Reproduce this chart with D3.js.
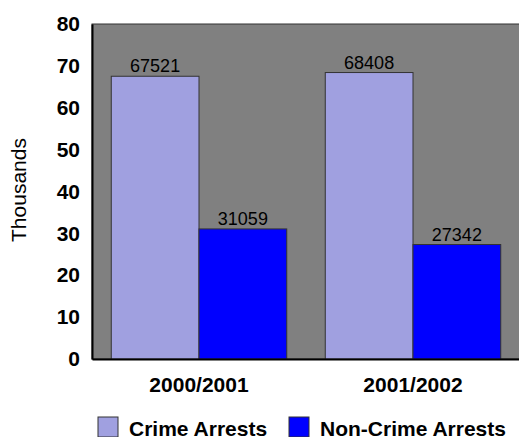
<!DOCTYPE html>
<html>
<head>
<meta charset="utf-8">
<script src="https://cdn.jsdelivr.net/npm/d3@7"></script>
<style>
  body { margin: 0; background: #fff; }
  svg { display: block; font-family: "Liberation Sans", Arial, sans-serif; }
</style>
</head>
<body>
<script>
const years = ["2000/2001", "2001/2002"]
const seriesNames = ["Crime Arrests", "Non-Crime Arrests"]
const crimeArrests = [67521, 68408]
const nonCrimeArrests = [31059, 27342]
const yTicks = [0, 10, 20, 30, 40, 50, 60, 70, 80]

const svgWidth = 519
const svgHeight = 437
const margin = { top: 24, right: -1, bottom: 78, left: 92 }
const chartWidth = svgWidth - margin.left - margin.right
const chartHeight = svgHeight - margin.top - margin.bottom

const colors = ["#a0a0e0", "#0000ff"]

const svg = d3.select("body").append("svg")
    .attr("width", svgWidth)
    .attr("height", svgHeight)

const chartG = svg.append("g")
    .attr("transform", `translate(${margin.left}, ${margin.top})`)

const x = d3.scaleBand()
    .domain(years)
    .range([0, chartWidth])
    .paddingInner(0.18)
    .paddingOuter(0.09)

const xInner = d3.scaleBand()
    .domain(seriesNames)
    .range([0, x.bandwidth()])

const y = d3.scaleLinear()
    .domain([0, 80])
    .range([chartHeight, 0])

// plot area
chartG.append("rect")
    .attr("width", chartWidth)
    .attr("height", chartHeight)
    .attr("fill", "#808080")
    .attr("stroke", "#333")
    .attr("stroke-width", 1)

const rows = years.map((yr, i) => ({
    year: yr,
    values: [crimeArrests[i], nonCrimeArrests[i]]
}))

const groups = chartG.selectAll(".grp")
    .data(rows)
    .join("g")
    .attr("transform", d => `translate(${x(d.year)}, 0)`)

groups.selectAll("rect")
    .data(d => d.values.map((v, j) => ({ name: seriesNames[j], v, j })))
    .join("rect")
    .attr("x", d => xInner(d.name))
    .attr("y", d => y(d.v / 1000))
    .attr("width", xInner.bandwidth())
    .attr("height", d => chartHeight - y(d.v / 1000))
    .attr("fill", d => colors[d.j])
    .attr("stroke", "#333")
    .attr("stroke-width", 1)

groups.selectAll("text")
    .data(d => d.values.map((v, j) => ({ name: seriesNames[j], v })))
    .join("text")
    .attr("x", d => xInner(d.name) + xInner.bandwidth() / 2)
    .attr("y", d => y(d.v / 1000) - 4)
    .attr("text-anchor", "middle")
    .attr("font-size", 18)
    .attr("fill", "#000")
    .text(d => d.v)

// axes
const yAxis = d3.axisLeft(y).tickValues(yTicks).tickSize(0).tickPadding(12)
const yG = chartG.append("g").call(yAxis)
yG.select(".domain").attr("stroke", "#000").attr("stroke-width", 2)
yG.selectAll("text").attr("font-size", 21).attr("font-weight", "bold").attr("fill", "#000")
    .attr("font-family", "Liberation Sans, Arial, sans-serif")

const xAxis = d3.axisBottom(x).tickSize(0).tickPadding(18)
const xG = chartG.append("g")
    .attr("transform", `translate(0, ${chartHeight})`)
    .call(xAxis)
xG.select(".domain").attr("stroke", "#000").attr("stroke-width", 2)
xG.selectAll("text").attr("font-size", 21).attr("font-weight", "bold").attr("fill", "#000")
    .attr("font-family", "Liberation Sans, Arial, sans-serif")

svg.append("text")
    .attr("transform", "translate(26, 190) rotate(-90)")
    .attr("text-anchor", "middle")
    .attr("font-size", 21)
    .text("Thousands")

// legend
const legendX = [98, 289]
const legend = svg.selectAll(".legend")
    .data(seriesNames)
    .join("g")
    .attr("transform", (d, i) => `translate(${legendX[i]}, 417)`)

legend.append("rect")
    .attr("width", 20)
    .attr("height", 20)
    .attr("fill", (d, i) => colors[i])
    .attr("stroke", "#333")
    .attr("stroke-width", 1)

legend.append("text")
    .attr("x", 31)
    .attr("y", 19)
    .attr("font-size", 21)
    .attr("font-weight", "bold")
    .text(d => d)
</script>
</body>
</html>
